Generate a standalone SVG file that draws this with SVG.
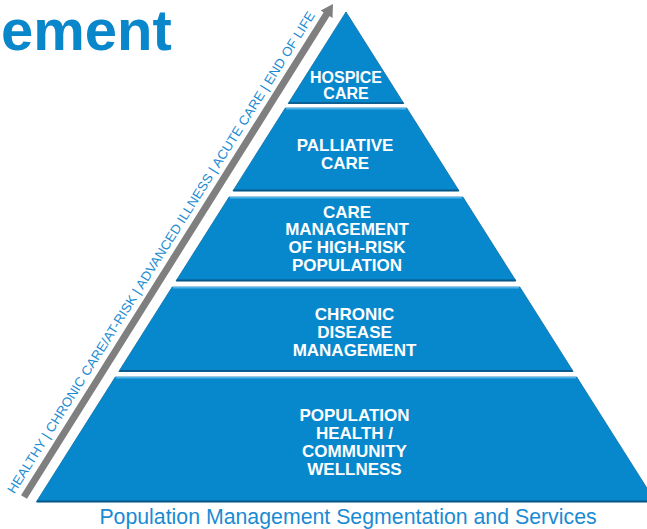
<svg xmlns="http://www.w3.org/2000/svg" width="647" height="529" viewBox="0 0 647 529">
  <style>
    .tier { fill: #0788cd; stroke: #0b6ea8; stroke-width: 0.8; }
    .hi { stroke: #4cb2ea; stroke-width: 1.4; fill: none; }
    .lo { stroke: #0a5686; stroke-width: 1.6; fill: none; }
    .lbl { font-family: "Liberation Sans", Arial, sans-serif; font-weight: bold; font-size: 17px; fill: #ffffff; text-anchor: middle; }
    .title { font-family: "Liberation Sans", Arial, sans-serif; font-weight: bold; font-size: 58px; fill: #0a86cb; }
    .caption { font-family: "Liberation Sans", Arial, sans-serif; font-size: 21.3px; fill: #1a8bd2; text-anchor: middle; }
    .axis { font-family: "Liberation Sans", Arial, sans-serif; font-size: 13px; fill: #1a8bd2; }
  </style>

  <rect width="647" height="529" fill="#ffffff"/>

  <!-- heading fragment -->
  <text class="title" x="1" y="50">ement</text>

  <!-- pyramid tiers -->
  <g id="tier-hospice">
    <polygon class="tier" points="346,12 403.8,103.5 288.2,103.5"/>
    <line class="lo" x1="288.5" y1="103" x2="403.5" y2="103"/>
    <text class="lbl" style="font-size:16px" x="346" y="82.5">HOSPICE</text>
    <text class="lbl" style="font-size:16px" x="346" y="99">CARE</text>
  </g>

  <g id="tier-palliative">
    <polygon class="tier" points="285.3,108 406.7,108 459.1,191 232.9,191"/>
    <line class="hi" x1="286" y1="108.8" x2="406" y2="108.8"/>
    <line class="lo" x1="233.5" y1="190.4" x2="458.5" y2="190.4"/>
    <text class="lbl" x="345" y="151">PALLIATIVE</text>
    <text class="lbl" x="345" y="169">CARE</text>
  </g>

  <g id="tier-care-management">
    <polygon class="tier" points="229.1,197 462.9,197 516,281 176,281"/>
    <line class="hi" x1="230" y1="197.8" x2="462" y2="197.8"/>
    <line class="lo" x1="176.5" y1="280.4" x2="515.5" y2="280.4"/>
    <text class="lbl" x="347" y="217.5">CARE</text>
    <text class="lbl" x="347" y="235.3">MANAGEMENT</text>
    <text class="lbl" x="347" y="253">OF HIGH-RISK</text>
    <text class="lbl" x="347" y="270.7">POPULATION</text>
  </g>

  <g id="tier-chronic">
    <polygon class="tier" points="172.2,287 519.8,287 573.2,371.5 118.8,371.5"/>
    <line class="hi" x1="173" y1="287.8" x2="519" y2="287.8"/>
    <line class="lo" x1="119.5" y1="370.9" x2="572.5" y2="370.9"/>
    <text class="lbl" x="354.5" y="320">CHRONIC</text>
    <text class="lbl" x="354.5" y="338">DISEASE</text>
    <text class="lbl" x="354.5" y="356">MANAGEMENT</text>
  </g>

  <g id="tier-population">
    <polygon class="tier" points="115.3,377 576.7,377 655.7,502 36.3,502"/>
    <line class="hi" x1="116" y1="377.8" x2="576" y2="377.8"/>
    <line class="lo" x1="37" y1="501.4" x2="647" y2="501.4"/>
    <text class="lbl" x="354.5" y="421">POPULATION</text>
    <text class="lbl" x="354.5" y="439">HEALTH /</text>
    <text class="lbl" x="354.5" y="457">COMMUNITY</text>
    <text class="lbl" x="354.5" y="475">WELLNESS</text>
  </g>

  <!-- progression arrow along the left side -->
  <g id="connectors">
    <line x1="24" y1="497" x2="327" y2="13.6" stroke="#7f7f7f" stroke-width="7"/>
    <polygon points="333,4 332.5,17.9 320.7,10.5" fill="#7f7f7f"/>
  </g>

  <g id="axis-label">
    <text class="axis" transform="translate(14.3,494.5) rotate(-57.87)" x="0" y="0" textLength="566" lengthAdjust="spacingAndGlyphs">HEALTHY | CHRONIC CARE/AT-RISK | ADVANCED ILLNESS | ACUTE CARE | END OF LIFE</text>
  </g>

  <!-- caption -->
  <g id="caption">
    <text class="caption" x="348" y="524">Population Management Segmentation and Services</text>
  </g>
</svg>
